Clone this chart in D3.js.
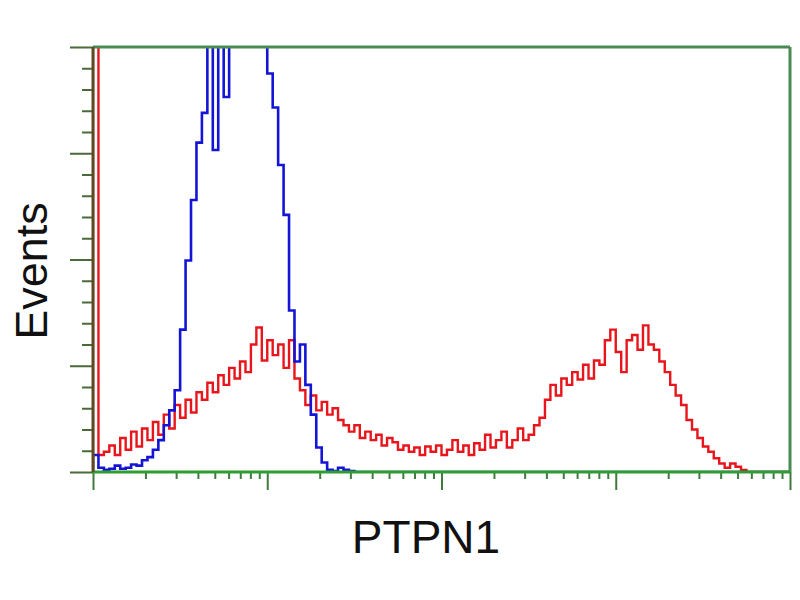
<!DOCTYPE html>
<html>
<head>
<meta charset="utf-8">
<script src="https://cdn.jsdelivr.net/npm/d3@7"></script>
<style>
  body { margin: 0; background: #fff; }
  text { font-family: "Liberation Sans", Arial, sans-serif; }
</style>
</head>
<body>
<script>
// histogram bins (channels), 128 bins over 4 log decades
const nBins = 128;

// red: PTPN1 stained sample
const redCounts = [
  520, 16, 19, 25, 16, 32, 21, 38, 24, 41,
  30, 47, 35, 54, 41, 63, 51, 68, 56, 75,
  68, 84, 75, 91, 82, 98, 88, 104, 94, 120,
  136, 105, 124, 110, 120, 98, 124, 88, 77, 63,
  72, 58, 66, 54, 60, 49, 44, 38, 44, 32,
  38, 30, 35, 25, 32, 28, 21, 25, 19, 23,
  16, 24, 19, 25, 16, 21, 30, 19, 25, 16,
  27, 21, 35, 23, 30, 38, 23, 30, 41, 30,
  35, 44, 51, 68, 82, 72, 88, 82, 94, 87,
  101, 88, 105, 101, 124, 134, 113, 94, 124, 129,
  115, 138, 120, 115, 104, 94, 82, 72, 63, 49,
  40, 32, 24, 19, 13, 8, 4, 8, 5, 2,
  0, 0, 0, 0, 0, 0, 0, 0
];

// blue: negative control
const blueCounts = [
  16, 4, 2, 3, 6, 3, 4, 7, 6, 11,
  14, 21, 30, 44, 58, 77, 134, 199, 256, 310,
  338, 430, 303, 440, 353, 450, 470, 480, 470, 480,
  460, 440, 375, 343, 289, 242, 152, 104, 120, 82,
  54, 23, 9, 2, 1, 4, 2, 1, 0, 0,
  0, 0, 0, 0, 0, 0, 0, 0, 0, 0,
  0, 0, 0, 0, 0, 0, 0, 0, 0, 0,
  0, 0, 0, 0, 0, 0, 0, 0, 0, 0,
  0, 0, 0, 0, 0, 0, 0, 0, 0, 0,
  0, 0, 0, 0, 0, 0, 0, 0, 0, 0,
  0, 0, 0, 0, 0, 0, 0, 0, 0, 0,
  0, 0, 0, 0, 0, 0, 0, 0, 0, 0,
  0, 0, 0, 0, 0, 0, 0, 0
];

const decades = [1, 10, 100, 1000, 10000];
const yMajor = [0, 100, 200, 300, 400];
const yMinor = [20, 40, 60, 80, 120, 140, 160, 180, 220, 240, 260, 280, 320, 340, 360, 380];
const xLabel = 'PTPN1';
const yLabel = 'Events';

const width = 800, height = 600;
const margin = { top: 47, right: 10, bottom: 128, left: 93 };
const plotW = width - margin.left - margin.right;
const plotH = height - margin.top - margin.bottom;

const svg = d3.select('body').append('svg')
  .attr('width', width)
  .attr('height', height);

const chart = svg.append('g')
  .attr('transform', `translate(${margin.left},${margin.top})`);

const xBin = d3.scaleLinear().domain([0, nBins]).range([0, plotW]);
const xLog = d3.scaleLog().domain([1, 10000]).range([0, plotW]);
const y = d3.scaleLinear().domain([0, 400]).range([plotH, 0]);

svg.append('defs').append('clipPath')
  .attr('id', 'plotclip')
  .append('rect')
  .attr('x', 0).attr('y', 0)
  .attr('width', plotW).attr('height', plotH);

function histPoints(counts) {
  const pts = [[0, 0]];
  counts.forEach((c, i) => pts.push([i, c]));
  pts.push([nBins, counts[counts.length - 1]]);
  return pts;
}

const line = d3.line()
  .x(d => xBin(d[0]))
  .y(d => y(d[1]))
  .curve(d3.curveStepAfter);

const plot = chart.append('g').attr('clip-path', 'url(#plotclip)');

plot.append('path')
  .datum(histPoints(redCounts))
  .attr('fill', 'none')
  .attr('stroke', '#e8161c')
  .attr('stroke-width', 2.4)
  .attr('d', line);

plot.append('path')
  .datum(histPoints(blueCounts))
  .attr('fill', 'none')
  .attr('stroke', '#1414d6')
  .attr('stroke-width', 2.6)
  .attr('d', line);

// y axis ticks (left, outside)
const yAxisMinor = d3.axisLeft(y).tickValues(yMinor).tickSize(11).tickFormat('');
const yAxisMajor = d3.axisLeft(y).tickValues(yMajor).tickSize(23).tickFormat('');
[yAxisMinor, yAxisMajor].forEach(ax => {
  const g = chart.append('g').call(ax);
  g.select('.domain').remove();
  g.selectAll('line').attr('stroke', '#4a6a3a').attr('stroke-width', 2);
});

// x axis ticks (log, below)
const minorVals = [];
for (let k = 0; k < decades.length - 1; k++) {
  for (let m = 2; m <= 9; m++) minorVals.push(decades[k] * m);
}
const xAxisMinor = d3.axisBottom(xLog).tickValues(minorVals).tickSize(7).tickFormat('');
const xAxisMajor = d3.axisBottom(xLog).tickValues(decades).tickSize(18).tickFormat('');
[xAxisMinor, xAxisMajor].forEach(ax => {
  const g = chart.append('g')
    .attr('transform', `translate(0,${plotH})`)
    .call(ax);
  g.select('.domain').remove();
  g.selectAll('line').attr('stroke', '#3f7a3f').attr('stroke-width', 2);
});

// frame
chart.append('line')
  .attr('x1', 0).attr('x2', plotW).attr('y1', 0).attr('y2', 0)
  .attr('stroke', '#4b8a52').attr('stroke-width', 3);
chart.append('line')
  .attr('x1', plotW).attr('x2', plotW).attr('y1', 0).attr('y2', plotH)
  .attr('stroke', '#4b8a52').attr('stroke-width', 3);
chart.append('line')
  .attr('x1', 0).attr('x2', plotW).attr('y1', plotH).attr('y2', plotH)
  .attr('stroke', '#2e9e32').attr('stroke-width', 3);
chart.append('line')
  .attr('x1', 0).attr('x2', 0).attr('y1', 0).attr('y2', plotH)
  .attr('stroke', '#5e4a22').attr('stroke-width', 3);

// labels
svg.append('text')
  .attr('transform', 'translate(47,271) rotate(-90)')
  .attr('text-anchor', 'middle')
  .style('font-size', '45px')
  .attr('fill', '#111')
  .text(yLabel);

svg.append('text')
  .attr('x', 426)
  .attr('y', 553)
  .attr('text-anchor', 'middle')
  .style('font-size', '46px')
  .attr('fill', '#111')
  .text(xLabel);
</script>
</body>
</html>
